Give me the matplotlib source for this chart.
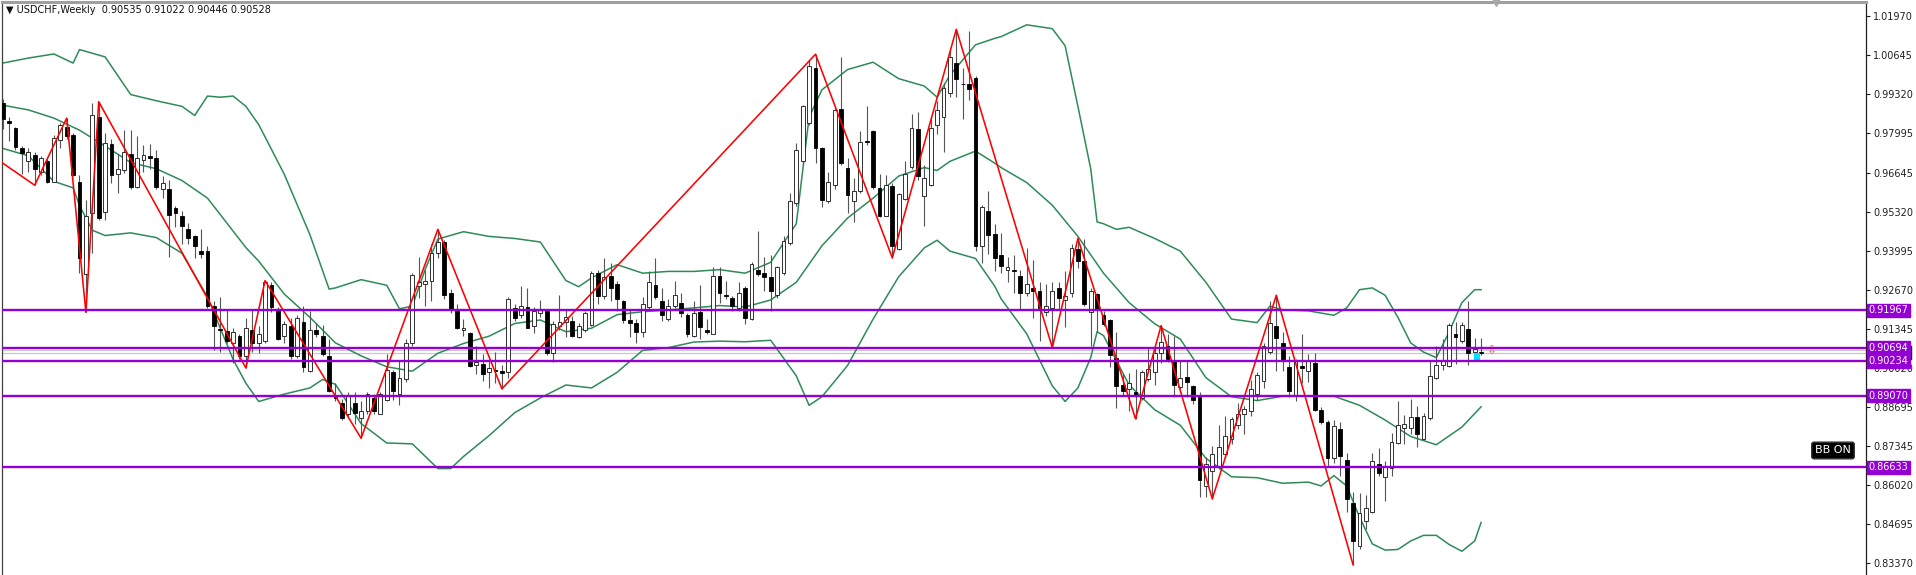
import matplotlib
matplotlib.use("Agg")
import matplotlib.pyplot as plt
import matplotlib.transforms as mtransforms
from matplotlib.patches import Rectangle
import numpy as np

# ---------------- data ----------------
title_text = "USDCHF,Weekly  0.90535 0.91022 0.90446 0.90528"

opens = [
0.9902, 0.9840, 0.9815, 0.9747, 0.9703, 0.9724, 0.9666, 0.9705, 0.9634, 0.9774,
0.9821, 0.9793, 0.9634, 0.9319, 0.9529, 0.9853, 0.9531, 0.9763, 0.9659, 0.9672,
0.9728, 0.9616, 0.9707, 0.9722, 0.9713, 0.9610, 0.9610, 0.9544, 0.9519, 0.9472,
0.9450, 0.9398, 0.9398, 0.9211, 0.9134, 0.9126, 0.9086, 0.9111, 0.9043, 0.9130,
0.9086, 0.9092, 0.9282, 0.9198, 0.9111, 0.9145, 0.9040, 0.9157, 0.8990, 0.9130,
0.9111, 0.9040, 0.8908, 0.8883, 0.8846, 0.8883, 0.8831, 0.8856, 0.8899, 0.8846,
0.8893, 0.8986, 0.8912, 0.8962, 0.9086, 0.9279, 0.9286, 0.9298, 0.9391, 0.9429,
0.9254, 0.9198, 0.9130, 0.9120, 0.9011, 0.9014, 0.8986, 0.8995, 0.8989, 0.8986,
0.9205, 0.9180, 0.9207, 0.9142, 0.9186, 0.9195, 0.9052, 0.9142, 0.9157, 0.9161,
0.9107, 0.9130, 0.9148, 0.9323, 0.9244, 0.9314, 0.9286, 0.9227, 0.9164, 0.9155,
0.9124, 0.9207, 0.9282, 0.9227, 0.9167, 0.9211, 0.9220, 0.9180, 0.9111, 0.9192,
0.9130, 0.9117, 0.9314, 0.9248, 0.9239, 0.9205, 0.9273, 0.9167, 0.9335, 0.9323,
0.9311, 0.9248, 0.9323, 0.9426, 0.9560, 0.9703, 0.9834, 1.0021, 0.9747, 0.9568,
0.9622, 0.9880, 0.9681, 0.9568, 0.9601, 0.9772, 0.9805, 0.9613, 0.9519, 0.9618,
0.9404, 0.9576, 0.9684, 0.9813, 0.9585, 0.9622, 0.9828, 0.9853, 0.9934, 1.0037,
0.9967, 0.9967, 0.9987, 0.9416, 0.9535, 0.9456, 0.9385, 0.9335, 0.9333, 0.9314,
0.9254, 0.9273, 0.9264, 0.9192, 0.9205, 0.9273, 0.9232, 0.9254, 0.9404, 0.9364,
0.9192, 0.9252, 0.9182, 0.9164, 0.9036, 0.8943, 0.8928, 0.8920, 0.8899, 0.8962,
0.8986, 0.9052, 0.9077, 0.9024, 0.8937, 0.8970, 0.8940, 0.8903, 0.8600, 0.8650,
0.8669, 0.8709, 0.8758, 0.8808, 0.8843, 0.8856, 0.8912, 0.8955, 0.9055, 0.9145,
0.9086, 0.9005, 0.8908, 0.9008, 0.8990, 0.9018, 0.8858, 0.8818, 0.8696, 0.8793,
0.8687, 0.8542, 0.8397, 0.8482, 0.8513, 0.8675, 0.8629, 0.8662, 0.8746, 0.8796,
0.8796, 0.8833, 0.8758, 0.8831, 0.8968, 0.9011, 0.9008, 0.9115, 0.9092, 0.9134,
0.9055, 0.90535]

highs = [
0.9915, 0.9855, 0.9821, 0.9755, 0.9747, 0.9734, 0.9722, 0.9712, 0.9793, 0.9833,
0.9850, 0.9800, 0.9656, 0.9572, 0.9900, 0.9906, 0.9800, 0.9778, 0.9728, 0.9809,
0.9809, 0.9788, 0.9759, 0.9762, 0.9740, 0.9653, 0.9641, 0.9550, 0.9535, 0.9494,
0.9454, 0.9472, 0.9414, 0.9229, 0.9242, 0.9198, 0.9136, 0.9117, 0.9170, 0.9198,
0.9142, 0.9298, 0.9292, 0.9207, 0.9161, 0.9170, 0.9182, 0.9211, 0.9195, 0.9155,
0.9148, 0.9099, 0.8949, 0.8895, 0.8920, 0.8918, 0.8887, 0.8920, 0.8912, 0.8920,
0.9049, 0.8995, 0.9024, 0.9099, 0.9323, 0.9379, 0.9335, 0.9423, 0.9472, 0.9435,
0.9269, 0.9217, 0.9167, 0.9124, 0.9074, 0.9049, 0.9030, 0.9055, 0.9011, 0.9242,
0.9217, 0.9279, 0.9273, 0.9207, 0.9232, 0.9201, 0.9161, 0.9248, 0.9198, 0.9177,
0.9155, 0.9195, 0.9329, 0.9335, 0.9373, 0.9357, 0.9298, 0.9232, 0.9198, 0.9167,
0.9242, 0.9329, 0.9375, 0.9273, 0.9236, 0.9298, 0.9254, 0.9186, 0.9229, 0.9282,
0.9167, 0.9344, 0.9344, 0.9298, 0.9244, 0.9292, 0.9279, 0.9360, 0.9466, 0.9379,
0.9385, 0.9348, 0.9448, 0.9597, 0.9765, 0.9896, 1.0046, 1.0067, 0.9753, 0.9666,
0.9884, 1.0058, 0.9715, 0.9647, 0.9805, 0.9890, 0.9809, 0.9659, 0.9656, 0.9628,
0.9597, 0.9703, 0.9865, 0.9871, 0.9691, 0.9853, 0.9909, 0.9971, 1.0077, 1.0152,
1.0021, 1.0145, 0.9992, 0.9554, 0.9603, 0.9491, 0.9460, 0.9379, 0.9385, 0.9335,
0.9410, 0.9367, 0.9292, 0.9286, 0.9292, 0.9294, 0.9329, 0.9423, 0.9441, 0.9439,
0.9273, 0.9254, 0.9195, 0.9167, 0.9124, 0.8980, 0.8983, 0.8999, 0.8993, 0.9070,
0.9074, 0.9145, 0.9117, 0.9111, 0.9024, 0.9024, 0.8943, 0.8918, 0.8700, 0.8737,
0.8808, 0.8837, 0.8833, 0.8881, 0.8871, 0.8961, 0.8986, 0.9086, 0.9229, 0.9248,
0.9124, 0.9043, 0.9033, 0.9115, 0.9049, 0.9052, 0.8868, 0.8824, 0.8824, 0.8818,
0.8712, 0.8581, 0.8575, 0.8569, 0.8712, 0.8728, 0.8684, 0.8781, 0.8887, 0.8841,
0.8895, 0.8871, 0.8849, 0.9024, 0.9074, 0.9099, 0.9155, 0.9157, 0.9157, 0.9227,
0.9102, 0.91022]

lows = [
0.9813, 0.9772, 0.9740, 0.9659, 0.9666, 0.9622, 0.9656, 0.9628, 0.9632, 0.9747,
0.9780, 0.9653, 0.9323, 0.9190, 0.9391, 0.9504, 0.9504, 0.9628, 0.9597, 0.9663,
0.9610, 0.9612, 0.9666, 0.9678, 0.9610, 0.9578, 0.9379, 0.9479, 0.9423, 0.9423,
0.9373, 0.9373, 0.9205, 0.9061, 0.9055, 0.9086, 0.9018, 0.9030, 0.9001, 0.9055,
0.9052, 0.9086, 0.9192, 0.9095, 0.9086, 0.9033, 0.9036, 0.8986, 0.8986, 0.9105,
0.9043, 0.8918, 0.8890, 0.8824, 0.8837, 0.8812, 0.8762, 0.8846, 0.8843, 0.8843,
0.8890, 0.8893, 0.8874, 0.8953, 0.9074, 0.9239, 0.9211, 0.9229, 0.9373, 0.9236,
0.9186, 0.9132, 0.9111, 0.9005, 0.8980, 0.8955, 0.8933, 0.8949, 0.8930, 0.8968,
0.9161, 0.9170, 0.9136, 0.9120, 0.9173, 0.9045, 0.9020, 0.9130, 0.9105, 0.9107,
0.9102, 0.9124, 0.9145, 0.9217, 0.9236, 0.9227, 0.9195, 0.9155, 0.9105, 0.9086,
0.9107, 0.9198, 0.9236, 0.9161, 0.9161, 0.9205, 0.9173, 0.9107, 0.9105, 0.9099,
0.9117, 0.9115, 0.9223, 0.9236, 0.9195, 0.9195, 0.9152, 0.9165, 0.9314, 0.9261,
0.9195, 0.9239, 0.9317, 0.9419, 0.9553, 0.9697, 0.9828, 0.9697, 0.9547, 0.9560,
0.9610, 0.9691, 0.9529, 0.9497, 0.9597, 0.9759, 0.9610, 0.9514, 0.9516, 0.9375,
0.9401, 0.9572, 0.9678, 0.9641, 0.9485, 0.9618, 0.9797, 0.9734, 0.9921, 0.9921,
0.9846, 0.9912, 0.9398, 0.9357, 0.9389, 0.9329, 0.9323, 0.9292, 0.9254, 0.9202,
0.9244, 0.9170, 0.9092, 0.9177, 0.9070, 0.9202, 0.9140, 0.9242, 0.9342, 0.9211,
0.9074, 0.9124, 0.9142, 0.9005, 0.8866, 0.8908, 0.8853, 0.8828, 0.8893, 0.8955,
0.8943, 0.9018, 0.9020, 0.8903, 0.8928, 0.8903, 0.8878, 0.8563, 0.8563, 0.8556,
0.8659, 0.8696, 0.8743, 0.8793, 0.8778, 0.8837, 0.8893, 0.8933, 0.9049, 0.8990,
0.8990, 0.8903, 0.8887, 0.8949, 0.8953, 0.8853, 0.8812, 0.8666, 0.8679, 0.8634,
0.8513, 0.8332, 0.8384, 0.8454, 0.8507, 0.8634, 0.8550, 0.8634, 0.8741, 0.8741,
0.8778, 0.8733, 0.8756, 0.8824, 0.8962, 0.8995, 0.9003, 0.9015, 0.9086, 0.9011,
0.9036, 0.90446]

closes = [
0.9846, 0.9834, 0.9753, 0.9730, 0.9734, 0.9678, 0.9715, 0.9634, 0.9784, 0.9825,
0.9790, 0.9656, 0.9373, 0.9516, 0.9859, 0.9510, 0.9765, 0.9656, 0.9676, 0.9734,
0.9616, 0.9713, 0.9724, 0.9715, 0.9616, 0.9628, 0.9522, 0.9529, 0.9485, 0.9441,
0.9416, 0.9389, 0.9211, 0.9142, 0.9130, 0.9092, 0.9124, 0.9043, 0.9136, 0.9086,
0.9115, 0.9292, 0.9207, 0.9099, 0.9151, 0.9043, 0.9170, 0.9005, 0.9130, 0.9115,
0.9049, 0.8924, 0.8899, 0.8831, 0.8905, 0.8849, 0.8856, 0.8912, 0.8856, 0.8912,
0.8993, 0.8924, 0.8968, 0.9086, 0.9317, 0.9294, 0.9298, 0.9391, 0.9429, 0.9248,
0.9198, 0.9138, 0.9136, 0.9009, 0.9020, 0.8980, 0.9001, 0.8990, 0.8983, 0.9236,
0.9170, 0.9211, 0.9138, 0.9195, 0.9198, 0.9052, 0.9152, 0.9157, 0.9173, 0.9111,
0.9145, 0.9186, 0.9323, 0.9244, 0.9311, 0.9273, 0.9236, 0.9165, 0.9155, 0.9124,
0.9217, 0.9292, 0.9242, 0.9182, 0.9211, 0.9248, 0.9186, 0.9115, 0.9186, 0.9140,
0.9124, 0.9314, 0.9257, 0.9244, 0.9211, 0.9257, 0.9170, 0.9354, 0.9319, 0.9311,
0.9261, 0.9344, 0.9431, 0.9568, 0.9740, 0.9890, 1.0027, 0.9747, 0.9572, 0.9634,
0.9878, 0.9699, 0.9588, 0.9601, 0.9768, 0.9768, 0.9616, 0.9516, 0.9622, 0.9416,
0.9591, 0.9659, 0.9815, 0.9653, 0.9647, 0.9815, 0.9878, 0.9952, 1.0058, 0.9983,
0.9965, 0.9949, 0.9416, 0.9547, 0.9454, 0.9373, 0.9348, 0.9344, 0.9329, 0.9254,
0.9286, 0.9264, 0.9205, 0.9213, 0.9264, 0.9239, 0.9244, 0.9410, 0.9364, 0.9217,
0.9264, 0.9198, 0.9152, 0.9045, 0.8940, 0.8924, 0.8949, 0.8905, 0.8986, 0.8999,
0.9052, 0.9090, 0.9030, 0.8943, 0.8968, 0.8953, 0.8893, 0.8621, 0.8675, 0.8709,
0.8731, 0.8768, 0.8828, 0.8846, 0.8862, 0.8930, 0.8978, 0.9074, 0.9155, 0.9102,
0.9028, 0.8924, 0.9024, 0.9001, 0.9024, 0.8858, 0.8818, 0.8694, 0.8803, 0.8703,
0.8556, 0.8413, 0.8507, 0.8525, 0.8684, 0.8644, 0.8669, 0.8750, 0.8808, 0.8812,
0.8833, 0.8778, 0.8837, 0.8974, 0.9011, 0.9024, 0.9148, 0.9105, 0.9148, 0.9052,
0.9065, 0.90528]

# Bollinger band lines (read at selected bar indices)
upper_idx = [0,4,8,11,12,16,20,24,28,30,32,34,36,38,40,44,48,51,52,56,60,62,64,66,68,72,76,80,84,88,90,92,96,100,104,108,112,116,120,124,126,128,132,136,140,144,145,146,148,152,155,156,160,164,166,168,170,171,172,174,176,180,184,188,192,196,198,200,204,208,210,212,214,216,218,220,222,224,226,228,230,231]
upper_val = [1.0037,1.0054,1.0068,1.0037,1.0083,1.0058,0.9930,0.9909,0.9890,0.9859,
             0.9925,0.9921,0.9925,0.9890,0.9828,0.9659,0.9454,0.9269,0.9273,0.9301,
             0.9282,0.9202,0.9211,0.9335,0.9439,0.9464,0.9448,0.9441,0.9429,0.9298,
             0.9277,0.9307,0.9352,0.9323,0.9329,0.9329,0.9335,0.9323,0.9360,0.9491,
             0.9853,0.9946,1.0015,1.0040,0.9984,0.9959,0.9940,0.9921,0.9996,1.0099,
             1.0121,1.0127,1.0167,1.0154,1.0096,0.9890,0.9678,0.9497,0.9491,0.9472,
             0.9479,0.9441,0.9398,0.9292,0.9167,0.9155,0.9211,0.9198,0.9195,0.9180,
             0.9205,0.9267,0.9273,0.9248,0.9173,0.9086,0.9055,0.9036,0.9123,0.9223,
             0.9267,0.9267]

mid_idx = [0,4,8,12,16,20,24,28,32,36,38,40,44,48,52,56,60,64,68,72,76,80,84,88,92,96,100,104,108,112,116,120,124,128,132,136,140,144,146,148,152,155,156,160,164,168,172,176,180,184,188,192,196,200,204,208,212,216,220,224,228,231]
mid_val = [0.9894,0.9878,0.9850,0.9809,0.9755,0.9699,0.9678,0.9638,0.9578,0.9466,
           0.9410,0.9364,0.9252,0.9173,0.9086,0.9042,0.9005,0.8990,0.9051,0.9084,
           0.9109,0.9152,0.9164,0.9124,0.9136,0.9182,0.9192,0.9198,0.9205,0.9213,
           0.9208,0.9232,0.9292,0.9416,0.9510,0.9578,0.9653,0.9682,0.9672,0.9703,
           0.9738,0.9697,0.9682,0.9631,0.9554,0.9448,0.9323,0.9223,0.9151,0.9099,
           0.8968,0.8903,0.8890,0.8905,0.8905,0.8905,0.8874,0.8824,0.8768,0.8740,
           0.8800,0.8869]

lower_idx = [0,4,8,11,12,14,16,20,24,28,32,36,38,40,44,48,50,52,56,60,64,68,70,72,76,80,84,88,92,96,100,104,108,112,116,120,124,126,128,132,136,140,144,146,148,152,155,156,160,164,166,168,170,171,172,176,180,184,188,192,196,200,204,206,208,210,212,214,216,218,220,222,224,226,228,230,231]
lower_val = [0.9747,0.9722,0.9635,0.9613,0.9553,0.9469,0.9451,0.9460,0.9444,0.9391,
             0.9242,0.9030,0.8949,0.8887,0.8912,0.8933,0.8962,0.8945,0.8812,0.8746,
             0.8743,0.8659,0.8659,0.8700,0.8771,0.8849,0.8899,0.8943,0.8933,0.8986,
             0.9061,0.9070,0.9089,0.9092,0.9090,0.9095,0.8974,0.8874,0.8903,0.9009,
             0.9167,0.9311,0.9409,0.9435,0.9398,0.9373,0.9279,0.9236,0.9117,0.8940,
             0.8887,0.8933,0.9036,0.9124,0.9111,0.8943,0.8859,0.8806,0.8694,0.8631,
             0.8628,0.8609,0.8613,0.8600,0.8635,0.8600,0.8494,0.8403,0.8382,0.8384,
             0.8413,0.8432,0.8432,0.8401,0.8378,0.8413,0.8476]

# ZigZag pivots (bar index, price)
zz_idx = [-5, 5, 10, 13, 15, 38, 41, 56, 68, 78, 127, 139, 149, 164, 168, 177, 181, 189, 199, 211]
zz_price = [0.9772, 0.9622, 0.9850, 0.9190, 0.9906, 0.9001, 0.9298, 0.8762, 0.9472, 0.8930,
            1.0067, 0.9375, 1.0152, 0.9070, 0.9441, 0.8828, 0.9145, 0.8556, 0.9248, 0.8332]

# horizontal levels
levels = [0.91967, 0.90694, 0.90234, 0.89070, 0.86633]
bid_price = 0.90528
ask_line = 0.90630

# axis tick labels
tick_values = [1.01970, 1.00645, 0.99320, 0.97995, 0.96645, 0.95320, 0.93995, 0.92670,
               0.91345, 0.90020, 0.88695, 0.87345, 0.86020, 0.84695, 0.83370]

# signal marker
signal_idx = 230.4
signal_top = 0.9052
signal_bottom = 0.9020

y_min, y_max = 0.82973, 1.02446
x_min, x_max = -0.109, 291.14

# ---------------- figure ----------------
W, H = 1916, 575
fig = plt.figure(figsize=(W / 100, H / 100), dpi=100)
fig.patch.set_facecolor("white")
ax = fig.add_axes([2 / W, 0, (1866 - 2) / W, 573 / H])
ax.set_facecolor("white")
ax.set_xlim(x_min, x_max)
ax.set_ylim(y_min, y_max)

n = len(closes)
idx = np.arange(n)
o = np.array(opens); c = np.array(closes); h = np.array(highs); l = np.array(lows)

# Bollinger lines
band_col = "#2E8B57"
ax.plot(upper_idx, upper_val, color=band_col, lw=1.1, zorder=2)
ax.plot(mid_idx, mid_val, color=band_col, lw=1.1, zorder=2)
ax.plot(lower_idx, lower_val, color=band_col, lw=1.1, zorder=2)

# gray price lines
ax.axhline(ask_line, color="#C8C8C8", lw=0.9, zorder=1)
ax.axhline(bid_price, color="#C8C8C8", lw=0.9, zorder=1)

# candles
ax.vlines(idx, l, h, color="#555555", lw=0.8, zorder=3)
bull = c >= o
body_w = 0.62
heights = np.abs(c - o)
heights = np.where(heights < 0.00008, 0.00008, heights)
bottoms = np.minimum(o, c)
ax.bar(idx[bull], heights[bull], bottom=bottoms[bull], width=body_w,
       color="white", edgecolor="#111111", linewidth=0.6, zorder=4)
ax.bar(idx[~bull], heights[~bull], bottom=bottoms[~bull], width=body_w,
       color="black", edgecolor="black", linewidth=0.6, zorder=4)

# zigzag
ax.plot(zz_idx, zz_price, color="#FF0000", lw=1.15, zorder=5)

# signal rectangle and arrow
ax.add_patch(Rectangle((signal_idx - 0.45, signal_bottom), 0.9, signal_top - signal_bottom,
                       facecolor="#00E0FF", edgecolor="none", zorder=4.5))
ax.text(n + 0.5, bid_price + 0.0004, "\u21e9", color="#FF5050", fontsize=8.5,
        ha="center", va="center", zorder=6)

# horizontal levels
purple = "#9400D3"
for lv in levels:
    ax.axhline(lv, color=purple, lw=1.7, zorder=6)

# axis styling
for side in ["bottom"]:
    ax.spines[side].set_visible(False)
ax.spines["top"].set_color("#A0A0A0")
ax.spines["top"].set_linewidth(2.2)
ax.spines["left"].set_color("#404040")
ax.spines["left"].set_linewidth(0.9)
ax.spines["right"].set_color("#202020")
ax.spines["right"].set_linewidth(0.9)
ax.set_xticks([])
ax.yaxis.tick_right()
ax.set_yticks(tick_values)
ax.set_yticklabels([f"{v:.5f}" for v in tick_values])
ax.tick_params(axis="y", direction="out", length=3, width=0.8, pad=2,
               labelsize=7, colors="#202020")

trans = mtransforms.blended_transform_factory(ax.transAxes, ax.transData)

# current price label (black) under the purple ones
ax.text(1.0015, bid_price, f"{bid_price:.5f}", transform=trans, fontsize=7, color="white",
        ha="left", va="center", zorder=7, clip_on=False,
        bbox=dict(boxstyle="square,pad=0.18", facecolor="black", edgecolor="black"))

for lv in levels:
    ax.text(1.0015, lv, f"{lv:.5f}", transform=trans, fontsize=7, color="white",
            ha="left", va="center", zorder=8, clip_on=False,
            bbox=dict(boxstyle="square,pad=0.18", facecolor=purple, edgecolor=purple))

# BB ON label
ax.text(0.9823, 0.2173, "BB ON", transform=ax.transAxes, fontsize=8, color="white",
        ha="center", va="center", zorder=9,
        bbox=dict(boxstyle="round,pad=0.3,rounding_size=0.2", facecolor="black", edgecolor="#333333"))

# chart shift marker
ax.plot([n + 1.4], [1.0], marker="v", color="#A8A8A8", markersize=6,
        transform=mtransforms.blended_transform_factory(ax.transData, ax.transAxes),
        clip_on=False, zorder=9)

# title
fig.text(6 / W, 1 - 10 / H, "\u25bc " + title_text, fontsize=7, color="#111111",
         ha="left", va="center")

fig.savefig("out.png", dpi=100, facecolor="white")
